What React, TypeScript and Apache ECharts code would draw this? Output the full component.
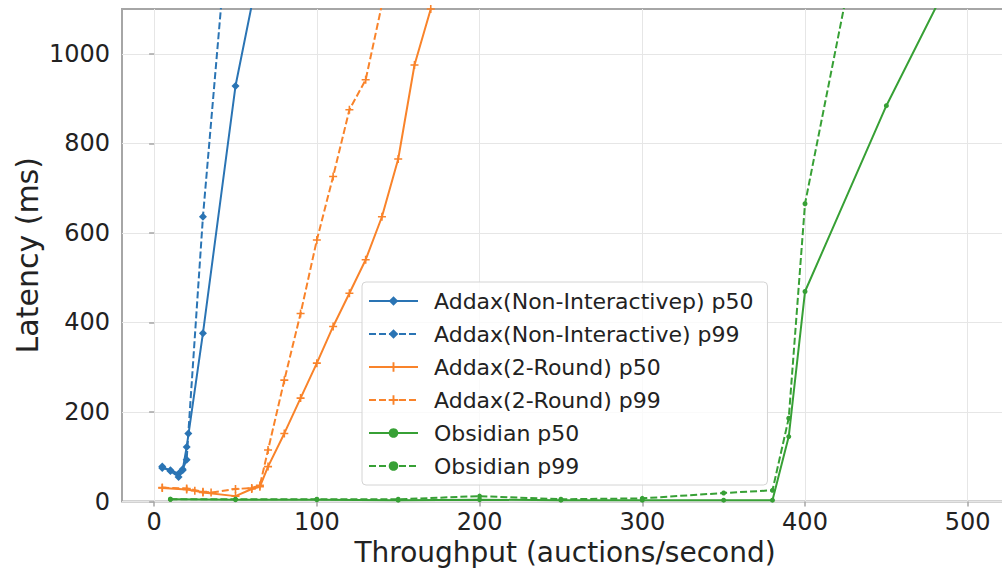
import React, { useEffect, useRef } from "react";
import * as echarts from "echarts";

const xTicks = [0, 100, 200, 300, 400, 500];
const yTicks = [0, 200, 400, 600, 800, 1000];

const seriesNames = [
  "Addax(Non-Interactivep) p50",
  "Addax(Non-Interactive) p99",
  "Addax(2-Round) p50",
  "Addax(2-Round) p99",
  "Obsidian p50",
  "Obsidian p99",
];

const addaxNiP50: [number, number][] = [
  [5, 75], [10, 70], [15, 62], [17.5, 70], [20, 122], [30, 376], [50, 928], [75, 1380],
];
const addaxNiP99: [number, number][] = [
  [5, 78], [10, 68], [15, 55], [17.5, 72], [20, 93], [21, 152], [30, 636], [50, 1480],
];
const addax2rP50: [number, number][] = [
  [5, 30], [20, 27], [25, 24], [30, 20], [50, 12], [60, 28], [65, 33], [70, 78],
  [80, 152], [90, 231], [100, 309], [110, 391], [120, 465], [130, 540], [140, 636],
  [150, 765], [160, 975], [170, 1100], [180, 1250],
];
const addax2rP99: [number, number][] = [
  [5, 31], [20, 29], [30, 22], [35, 20], [50, 28], [60, 30], [65, 36], [70, 115],
  [80, 271], [90, 420], [100, 584], [110, 726], [120, 875], [130, 942], [140, 1110],
  [150, 1280],
];
const obsidianP50: [number, number][] = [
  [10, 5], [50, 4], [100, 4], [150, 3], [200, 4], [250, 3], [300, 3], [350, 3],
  [380, 3], [390, 145], [400, 469], [450, 884], [500, 1245],
];
const obsidianP99: [number, number][] = [
  [10, 5], [50, 5], [100, 5], [150, 5], [200, 12], [250, 5], [300, 7], [350, 19],
  [380, 25], [390, 186], [400, 665], [450, 1580],
];

const BLUE = "#2a74b4";
const ORANGE = "#f9832a";
const GREEN = "#37a035";
const FONT = "DejaVu Sans";
const PLUS = "path://M4,0H6V4H10V6H6V10H4V6H0V4H4Z";

export default function App() {
  const ref = useRef<HTMLDivElement>(null);
  useEffect(() => {
    if (!ref.current) return;
    const chart = echarts.init(ref.current, undefined, { renderer: "svg" });
    const mk = (
      name: string,
      data: [number, number][],
      color: string,
      dashed: boolean,
      symbol: string,
      size: number
    ) => ({
      name,
      type: "line",
      data,
      symbol,
      symbolSize: size,
      showAllSymbol: true,
      clip: true,
      itemStyle: { color },
      lineStyle: { color, width: 2, type: dashed ? [7, 3] : "solid" },
      z: 3,
    });
    chart.setOption({
      animation: false,
      backgroundColor: "#ffffff",
      textStyle: { fontFamily: FONT },
      grid: {
        left: 122,
        top: 9,
        width: 886,
        bottom: 66.5,
        outerBoundsMode: "none",
        containLabel: false,
        show: true,
        borderColor: "#a6a6a6",
        borderWidth: 2,
        backgroundColor: "transparent",
      },
      legend: {
        orient: "vertical",
        left: 362,
        top: 282,
        itemWidth: 49,
        itemHeight: 12,
        itemGap: 11,
        padding: [8, 14, 8, 6],
        backgroundColor: "rgba(255,255,255,0.8)",
        borderColor: "#d4d4d4",
        borderWidth: 1,
        borderRadius: 4,
        data: seriesNames,
        textStyle: {
          fontFamily: FONT,
          fontSize: 22,
          lineHeight: 22,
          color: "#222",
          padding: [0, 0, 0, 11],
        },
      },
      xAxis: {
        type: "value",
        min: -19.75,
        max: 524.75,
        splitNumber: 5,
        name: "Throughput (auctions/second)",
        nameLocation: "middle",
        nameGap: 37,
        nameMoveOverlap: false,
        nameTextStyle: { fontFamily: FONT, fontSize: 28, lineHeight: 28, color: "#222" },
        axisLine: { show: false },
        axisTick: {
          show: true,
          length: 5,
          lineStyle: { color: "#a6a6a6", width: 1.5 },
          customValues: xTicks,
        },
        axisLabel: {
          fontFamily: FONT,
          fontSize: 24,
          color: "#222",
          margin: 8,
          customValues: xTicks,
          formatter: (v: number) => String(v),
        },
        splitLine: { show: true, lineStyle: { color: "#e6e6e6", width: 1 } },
      },
      yAxis: {
        type: "value",
        min: 0,
        max: 1100,
        interval: 200,
        name: "Latency (ms)",
        nameLocation: "middle",
        nameGap: 80,
        nameMoveOverlap: false,
        nameTextStyle: { fontFamily: FONT, fontSize: 30, color: "#222" },
        axisLine: { show: false },
        axisTick: {
          show: true,
          length: 5,
          lineStyle: { color: "#a6a6a6", width: 1.5 },
          customValues: yTicks,
        },
        axisLabel: {
          fontFamily: FONT,
          fontSize: 24,
          color: "#222",
          margin: 12,
          customValues: yTicks,
          formatter: (v: number) => String(v),
        },
        splitLine: { show: true, lineStyle: { color: "#e6e6e6", width: 1 } },
      },
      series: [
        mk(seriesNames[0], addaxNiP50, BLUE, false, "diamond", 8),
        mk(seriesNames[1], addaxNiP99, BLUE, true, "diamond", 8),
        mk(seriesNames[2], addax2rP50, ORANGE, false, PLUS, 8),
        mk(seriesNames[3], addax2rP99, ORANGE, true, PLUS, 8),
        mk(seriesNames[4], obsidianP50, GREEN, false, "circle", 5),
        mk(seriesNames[5], obsidianP99, GREEN, true, "circle", 5),
      ],
    });
    return () => chart.dispose();
  }, []);
  return (
    <div
      ref={ref}
      style={{ position: "fixed", left: 0, top: 0, width: 1002, height: 568 }}
    />
  );
}
